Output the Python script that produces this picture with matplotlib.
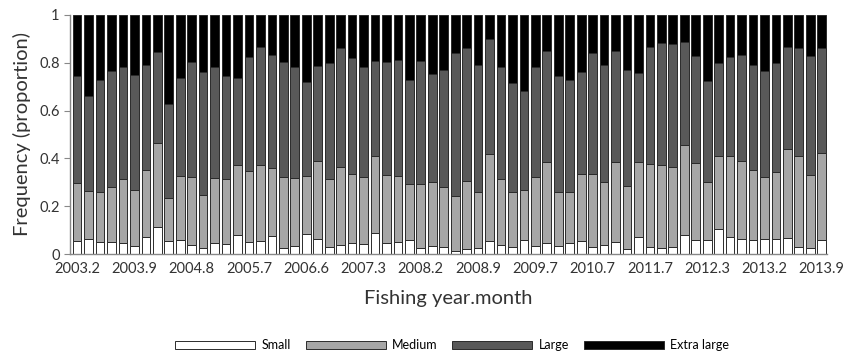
import numpy as np
import matplotlib
matplotlib.use('Agg')
import matplotlib.pyplot as plt

plt.rcParams['font.family'] = ['Lato', 'DejaVu Sans']

# tick labels shown every 5th category (66 monthly samples in total)
tick_labels = ['2003.2', '2003.9', '2004.8', '2005.7', '2006.6', '2007.3', '2008.2',
               '2008.9', '2009.7', '2010.7', '2011.7', '2012.3', '2013.2', '2013.9']

# cumulative tops, one value per bar
small_top = [0.053, 0.064, 0.050, 0.050, 0.046, 0.036, 0.070, 0.113, 0.054, 0.060,
             0.039, 0.025, 0.045, 0.042, 0.081, 0.049, 0.057, 0.074, 0.024, 0.032,
             0.083, 0.065, 0.028, 0.038, 0.045, 0.042, 0.090, 0.046, 0.049, 0.061,
             0.025, 0.036, 0.031, 0.013, 0.021, 0.024, 0.057, 0.038, 0.028, 0.058,
             0.033, 0.045, 0.035, 0.045, 0.053, 0.028, 0.039, 0.049, 0.021, 0.070,
             0.028, 0.024, 0.031, 0.078, 0.060, 0.060, 0.107, 0.071, 0.063, 0.058,
             0.064, 0.063, 0.067, 0.031, 0.024, 0.061]
medium_top = [0.299, 0.264, 0.259, 0.282, 0.312, 0.268, 0.353, 0.463, 0.236, 0.325,
              0.323, 0.246, 0.320, 0.312, 0.374, 0.348, 0.373, 0.360, 0.324, 0.320,
              0.328, 0.391, 0.312, 0.363, 0.334, 0.324, 0.412, 0.331, 0.328, 0.291,
              0.295, 0.300, 0.282, 0.243, 0.306, 0.261, 0.417, 0.314, 0.259, 0.268,
              0.324, 0.384, 0.261, 0.261, 0.334, 0.334, 0.303, 0.384, 0.286, 0.387,
              0.378, 0.374, 0.366, 0.458, 0.381, 0.303, 0.408, 0.412, 0.388, 0.350,
              0.321, 0.345, 0.441, 0.408, 0.332, 0.424]
large_top = [0.744, 0.661, 0.729, 0.764, 0.783, 0.750, 0.790, 0.846, 0.629, 0.734,
             0.801, 0.761, 0.780, 0.745, 0.734, 0.823, 0.866, 0.834, 0.804, 0.783,
             0.719, 0.786, 0.797, 0.860, 0.819, 0.783, 0.808, 0.802, 0.812, 0.727,
             0.805, 0.754, 0.769, 0.839, 0.860, 0.789, 0.897, 0.783, 0.713, 0.680,
             0.780, 0.850, 0.744, 0.727, 0.761, 0.839, 0.791, 0.848, 0.768, 0.755,
             0.866, 0.882, 0.879, 0.887, 0.829, 0.723, 0.800, 0.825, 0.832, 0.789,
             0.766, 0.797, 0.865, 0.860, 0.828, 0.861]

small = np.array(small_top)
medium = np.array(medium_top) - small
large = np.array(large_top) - np.array(medium_top)
xlarge = 1 - np.array(large_top)

x = np.arange(len(small))
fig = plt.figure(figsize=(8.45, 3.52), dpi=100)
ax = fig.add_axes([0.083, 0.278, 0.896, 0.680])

w = 0.76
ec = '#2b2b2b'
lw = 0.7
ax.bar(x, small, w, color='white', edgecolor=ec, linewidth=lw, label='Small')
ax.bar(x, medium, w, bottom=small, color='#a6a6a6', edgecolor=ec, linewidth=lw, label='Medium')
ax.bar(x, large, w, bottom=small + medium, color='#595959', edgecolor=ec, linewidth=lw, label='Large')
ax.bar(x, xlarge, w, bottom=small + medium + large, color='black', edgecolor=ec, linewidth=lw,
       label='Extra large')

ax.set_xlim(-0.61, 65.48)
ax.set_ylim(0, 1)
ax.set_yticks([0, 0.2, 0.4, 0.6, 0.8, 1.0])
ax.set_yticklabels(['0', '0.2', '0.4', '0.6', '0.8', '1'])
ax.set_xticks(x[::5])
ax.set_xticklabels(tick_labels)
ax.tick_params(axis='x', length=0, pad=6, labelsize=10.5, colors='#333333')
ax.tick_params(axis='y', length=4, width=0.8, direction='out', labelsize=10.5,
               colors='#333333', color='#888888')
for s in ['top', 'right']:
    ax.spines[s].set_visible(False)
for s in ['left', 'bottom']:
    ax.spines[s].set_color('#888888')
    ax.spines[s].set_linewidth(1)

ax.set_ylabel('Frequency (proportion)', fontsize=14.5, color='#333333', labelpad=6)
ax.set_xlabel('Fishing year.month', fontsize=14.5, color='#333333', labelpad=10)

fig.legend(loc='center', bbox_to_anchor=(0.535, 0.02), ncol=4, frameon=False,
           fontsize=9, handlelength=6.4, handleheight=0.6, columnspacing=1.2,
           handletextpad=0.5)

fig.savefig('out.png', dpi=100)
